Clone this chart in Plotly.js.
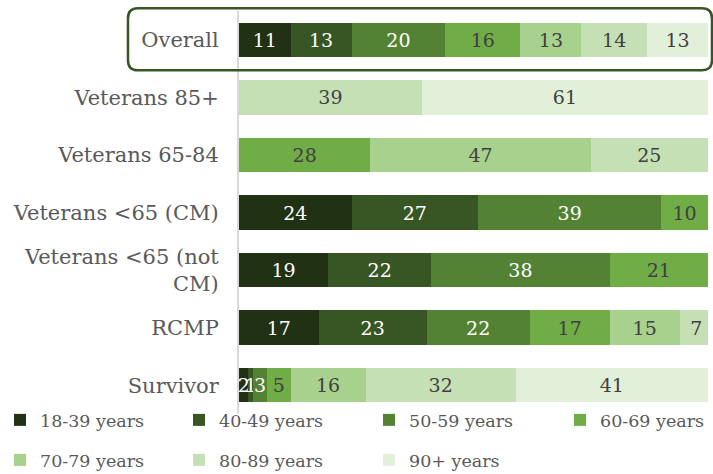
<!DOCTYPE html>
<html><head><meta charset="utf-8">
<script src="https://cdn.plot.ly/plotly-3.0.1.min.js"></script>
<style>body{margin:0;background:#fff}#c{width:713px;height:474px}</style>
</head><body><div id="c"></div>
<script>
const categories = ["Overall","Veterans 85+","Veterans 65-84","Veterans <65 (CM)","Veterans <65 (not<br>CM)","RCMP","Survivor"];
const seriesNames = ["18-39 years","40-49 years","50-59 years","60-69 years","70-79 years","80-89 years","90+ years"];
const s1839 = [11, null, null, 24, 19, 17, 2];
const s4049 = [13, null, null, 27, 22, 23, 1];
const s5059 = [20, null, null, 39, 38, 22, 3];
const s6069 = [16, null, 28, 10, 21, 17, 5];
const s7079 = [13, null, 47, null, null, 15, 16];
const s8089 = [14, 39, 25, null, null, 7, 32];
const s90 = [13, 61, null, null, null, null, 41];
const seriesValues = [s1839, s4049, s5059, s6069, s7079, s8089, s90];
const colors = ["#203114","#375623","#548235","#70AD47","#A9D18E","#C5E0B4","#E2F0D9"];
const textColors = ["#ffffff","#ffffff","#ffffff","#404040","#404040","#404040","#404040"];
const FONT = "DejaVu Serif, Liberation Serif, serif";

// legend slot for each series: column (0-3) and row (0-1)
const legendCol = [0, 1, 2, 3, 0, 1, 2];
const legendRow = [0, 0, 0, 0, 1, 1, 1];
const colX = [-12, 179, 369, 560];
const rowY = [420, 460];

const traces = seriesValues.map((vals, i) => ({
  type: "bar", orientation: "h",
  name: seriesNames[i], y: categories, x: vals,
  legend: i === 0 ? "legend" : "legend" + (i + 1),
  marker: {color: colors[i], line: {width: 0}},
  text: vals.map(v => v == null ? "" : String(v)),
  textposition: "inside", insidetextanchor: "middle", textangle: 0,
  textfont: {family: FONT, size: 19, color: textColors[i]},
  constraintext: "none",
  hoverinfo: "skip"
}));

const layout = {
  width: 713, height: 474,
  margin: {l: 239, r: 5, t: 11, b: 60, autoexpand: false},
  barmode: "stack", bargap: 0.4,
  paper_bgcolor: "#fff", plot_bgcolor: "#fff",
  font: {family: FONT, color: "#595959"},
  uniformtext: {mode: "show", minsize: 19},
  xaxis: {range: [0, 100], visible: false, fixedrange: true},
  yaxis: {autorange: "reversed", type: "category", showgrid: false, zeroline: false,
          showline: true, linecolor: "#d9d9d9", linewidth: 2, ticks: "",
          ticklabelstandoff: 14, tickfont: {family: FONT, size: 21, color: "#595959"}},
  showlegend: true,
  shapes: [{
    type: "path", xref: "paper", yref: "paper", layer: "above",
    path: "M -0.2367 0.982 Q -0.2367 1.007 -0.2157 1.007 L 0.987 1.007 Q 1.0085 1.007 1.0085 0.982 L 1.0085 0.878 Q 1.0085 0.853 0.987 0.853 L -0.2157 0.853 Q -0.2367 0.853 -0.2367 0.878 Z",
    line: {color: "#375623", width: 2.5}, fillcolor: "rgba(0,0,0,0)"
  }]
};
seriesNames.forEach((n, i) => {
  const key = i === 0 ? "legend" : "legend" + (i + 1);
  layout[key] = {
    orientation: "h", xref: "container", yref: "container",
    x: colX[legendCol[i]] / 713, y: 1 - rowY[legendRow[i]] / 474, yanchor: "middle", xanchor: "left",
    font: {family: FONT, size: 17.5, color: "#595959"}, itemwidth: 30, bgcolor: "rgba(0,0,0,0)"
  };
});
Plotly.newPlot("c", traces, layout, {staticPlot: true, displayModeBar: false});
</script></body></html>
